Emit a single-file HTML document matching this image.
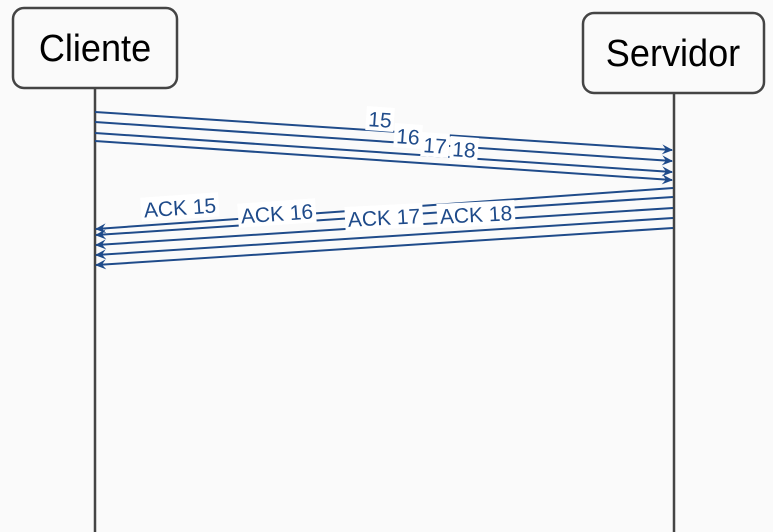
<!DOCTYPE html>
<html><head><meta charset="utf-8"><style>
html,body{margin:0;padding:0;background:#fafafa;}
svg{display:block;}
</style></head><body>
<svg width="773" height="532" viewBox="0 0 773 532" xmlns="http://www.w3.org/2000/svg">
<defs>
<marker id="a" markerWidth="12" markerHeight="10" refX="10" refY="5" orient="auto" markerUnits="userSpaceOnUse">
<path d="M0,0 L11,5 L0,10 L4,5 Z" fill="#1f4b8a"/>
</marker>
</defs>
<rect x="0" y="0" width="773" height="532" fill="#fafafa"/>
<line x1="95" y1="88" x2="95" y2="532" stroke="#444" stroke-width="2.5"/>
<line x1="674" y1="93" x2="674" y2="532" stroke="#444" stroke-width="2.5"/>
<rect x="13" y="8" width="164" height="80" rx="11" fill="#fafafa" stroke="#444" stroke-width="2.5"/>
<rect x="583" y="13" width="181" height="80" rx="11" fill="#fafafa" stroke="#444" stroke-width="2.5"/>
<text x="95" y="61" text-anchor="middle" font-family="Liberation Sans, sans-serif" font-size="38" fill="#000" transform="translate(95,0) scale(0.95,1) translate(-95,0)">Cliente</text>
<text x="673" y="66" text-anchor="middle" font-family="Liberation Sans, sans-serif" font-size="38" fill="#000" transform="translate(673,0) scale(0.95,1) translate(-673,0)">Servidor</text>
<g stroke="#1f4b8a" stroke-width="2" fill="none" marker-end="url(#a)">
<line x1="95" y1="112" x2="672" y2="150"/>
<line x1="95" y1="122" x2="672" y2="161"/>
<line x1="95" y1="133" x2="672" y2="172"/>
<line x1="95" y1="141" x2="672" y2="180"/>
<line x1="673" y1="188" x2="96" y2="229"/>
<line x1="673" y1="197" x2="96" y2="235"/>
<line x1="673" y1="208" x2="96" y2="245"/>
<line x1="673" y1="218" x2="96" y2="255"/>
<line x1="673" y1="228" x2="96" y2="265"/>
</g>
<g font-family="Liberation Sans, sans-serif" font-size="21" fill="#1f4b8a" text-anchor="middle">
<g transform="translate(380,120) rotate(4)"><rect x="-14" y="-13" width="28" height="24" fill="#fff"/><text y="7">15</text></g>
<g transform="translate(408,137) rotate(4)"><rect x="-14" y="-13" width="28" height="24" fill="#fff"/><text y="7">16</text></g>
<g transform="translate(435,146) rotate(4)"><rect x="-14" y="-13" width="28" height="24" fill="#fff"/><text y="7">17</text></g>
<g transform="translate(464,150) rotate(4)"><rect x="-14" y="-13" width="28" height="24" fill="#fff"/><text y="7">18</text></g>
<g transform="translate(180,208) rotate(-4)"><rect x="-39" y="-13" width="78" height="24" fill="#fff"/><text y="7">ACK 15</text></g>
<g transform="translate(277,214) rotate(-4)"><rect x="-39" y="-13" width="78" height="24" fill="#fff"/><text y="7">ACK 16</text></g>
<g transform="translate(384,218) rotate(-3)"><rect x="-39" y="-13" width="78" height="24" fill="#fff"/><text y="7">ACK 17</text></g>
<g transform="translate(476,215) rotate(-3)"><rect x="-39" y="-13" width="78" height="24" fill="#fff"/><text y="7">ACK 18</text></g>
</g>
</svg>
</body></html>
